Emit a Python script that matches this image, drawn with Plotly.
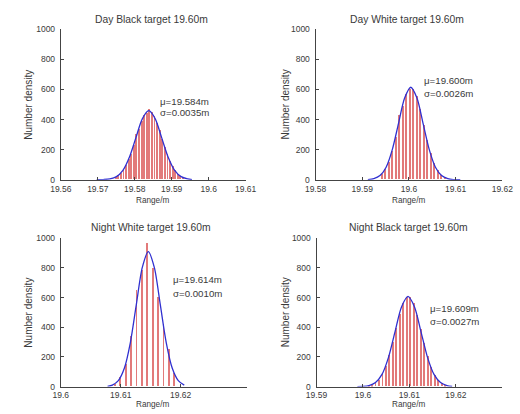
import plotly.graph_objects as go

# ---------------- data ----------------
titles = ["Day Black target 19.60m", "Day White target 19.60m",
          "Night White target 19.60m", "Night Black target 19.60m"]
mu_labels = ["\u03bc=19.584m", "\u03bc=19.600m", "\u03bc=19.614m", "\u03bc=19.609m"]
sigma_labels = ["\u03c3=0.0035m", "\u03c3=0.0026m", "\u03c3=0.0010m", "\u03c3=0.0027m"]

# histogram bin centres (start, step) and heights
p1_bin_start, p1_bin_step = 19.5748, 0.0007
p1_heights = [17, 28, 43, 66, 96, 134, 165, 231, 300, 335, 390, 428, 440, 470,
              447, 419, 377, 326, 271, 216, 165, 122, 86, 59, 38, 24, 15]
p2_bin_start, p2_bin_step = 19.5941, 0.00075
p2_heights = [36, 67, 118, 190, 282, 430, 488, 568, 600, 598, 555, 468, 364,
              262, 174, 106, 60, 31, 15]
p3_bin_start, p3_bin_step = 19.6090, 0.0009
p3_heights = [18, 65, 149, 340, 650, 783, 965, 800, 600, 417, 250, 90]
p4_bin_start, p4_bin_step = 19.6011, 0.00075
p4_heights = [5, 12, 24, 46, 82, 136, 208, 297, 395, 489, 563, 603, 602, 559,
              483, 388, 291, 203, 132, 79, 45, 23, 11]

# fitted curves
p1_curve_x = [19.5697, 19.5715, 19.5733, 19.57505, 19.5768, 19.57855, 19.5803,
              19.58205, 19.5838, 19.58555, 19.5873, 19.58905, 19.5908, 19.59255,
              19.5943, 19.5955]
p1_curve_y = [0, 1, 5, 20, 62, 149, 278, 405, 459, 405, 278, 149, 62, 20, 5, 1]
p2_curve_x = [19.5912, 19.59248, 19.5938, 19.59512, 19.59644, 19.59776, 19.59908,
              19.6004, 19.60172, 19.60304, 19.60436, 19.60568, 19.607, 19.60832,
              19.6095, 19.6110]
p2_curve_y = [1, 7, 27, 83, 200, 373, 543, 615, 543, 373, 200, 83, 27, 7, 1, 0]
p3_curve_x = [19.6078, 19.6086, 19.6096, 19.6106, 19.6116, 19.6126, 19.6136,
              19.6146, 19.6156, 19.6166, 19.6176, 19.6186, 19.6196, 19.6206]
p3_curve_y = [1, 10, 40, 123, 295, 552, 803, 910, 803, 552, 295, 123, 40, 10]
p4_curve_x = [19.5988, 19.6000, 19.6013, 19.6027, 19.6041, 19.6055, 19.6069,
              19.6083, 19.6097, 19.6111, 19.6125, 19.6139, 19.6153, 19.6167,
              19.6181, 19.6192]
p4_curve_y = [0, 1, 7, 27, 82, 197, 369, 537, 608, 537, 369, 197, 82, 27, 7, 1]

x_ranges = [[19.56, 19.61], [19.58, 19.62], [19.60, 19.631], [19.59, 19.63]]
x_ticks = [[19.56, 19.57, 19.58, 19.59, 19.60, 19.61],
           [19.58, 19.59, 19.60, 19.61, 19.62],
           [19.60, 19.61, 19.62],
           [19.59, 19.60, 19.61, 19.62]]
x_ticktext = [["19.56", "19.57", "19.58", "19.59", "19.6", "19.61"],
              ["19.58", "19.59", "19.6", "19.61", "19.62"],
              ["19.6", "19.61", "19.62"],
              ["19.59", "19.6", "19.61", "19.62"]]
y_ticks = [0, 200, 400, 600, 800, 1000]
x_title = "Range/m"
y_title = "Number density"

# ---------------- layout geometry (page pixels) ----------------
W, H = 520, 414
px_x = [(52, 245), (318, 513), (52, 246), (319, 513)]
px_y = [(179, 25), (179, 25), (391, 239), (391, 239)]  # (y of 0, y of 1000)
bar_w = [0.00024, 0.0002, 0.00015, 0.0002]
title_pos = [(147, 15), (414, 15), (146, 228), (415, 228)]
mu_pos = [(153, 99, 110), (429, 77, 91), (167, 281, 296), (435, 311, 324)]
ytitle_pos = [(18, 102), (287, 102), (18, 315), (287, 315)]
xtitle_pos = [(148, 200), (415, 200), (148, 409), (415, 409)]
xtick_standoff = [1, 1, 0, 0]


def fx(px):
    return px / W


def fy(py):
    return 1 - py / H


bins = [(p1_bin_start, p1_bin_step, p1_heights), (p2_bin_start, p2_bin_step, p2_heights),
        (p3_bin_start, p3_bin_step, p3_heights), (p4_bin_start, p4_bin_step, p4_heights)]
curves = [(p1_curve_x, p1_curve_y), (p2_curve_x, p2_curve_y),
          (p3_curve_x, p3_curve_y), (p4_curve_x, p4_curve_y)]

FONT = "Liberation Sans, Arial, sans-serif"
TXT = "#3a3a3a"
fig = go.Figure()
annotations = []
for i in range(4):
    sfx = "" if i == 0 else str(i + 1)
    start, step, hts = bins[i]
    centers = [round(start + k * step, 6) for k in range(len(hts))]
    fig.add_trace(go.Bar(x=centers, y=hts, width=bar_w[i],
                         marker=dict(color="#e27a7a", line=dict(width=0)),
                         xaxis="x" + sfx, yaxis="y" + sfx, showlegend=False))
    cx, cy = curves[i]
    fig.add_trace(go.Scatter(x=cx, y=cy, mode="lines",
                             line=dict(color="#3030d0", width=1.3, shape="spline", smoothing=0.8),
                             xaxis="x" + sfx, yaxis="y" + sfx, showlegend=False))
    x0, x1 = px_x[i]
    y0, y1 = px_y[i]
    fig.layout["xaxis" + sfx] = dict(
        domain=[fx(x0), fx(x1)], range=x_ranges[i], anchor="y" + sfx,
        tickvals=x_ticks[i], ticktext=x_ticktext[i], ticks="inside", ticklen=3,
        tickcolor="#444", showline=True, linecolor="#444", linewidth=1,
        ticklabelstandoff=xtick_standoff[i],
        showgrid=False, zeroline=False, tickfont=dict(size=8.5, color=TXT, family=FONT))
    fig.layout["yaxis" + sfx] = dict(
        domain=[fy(y0), fy(y1)], range=[0, 1000], anchor="x" + sfx,
        tickvals=y_ticks, ticks="inside", ticklen=3, tickcolor="#444",
        ticklabelstandoff=3,
        showline=True, linecolor="#444", linewidth=1, showgrid=False, zeroline=False,
        tickfont=dict(size=8.5, color=TXT, family=FONT))
    tx, ty = title_pos[i]
    annotations.append(dict(text=titles[i], x=fx(tx), y=fy(ty), xref="paper", yref="paper",
                            showarrow=False, xanchor="center", yanchor="middle",
                            font=dict(size=10.3, color=TXT, family=FONT)))
    mx, my1, my2 = mu_pos[i]
    annotations.append(dict(text=mu_labels[i], x=fx(mx), y=fy(my1), xref="paper", yref="paper",
                            showarrow=False, xanchor="left", yanchor="middle",
                            font=dict(size=9.7, color=TXT, family=FONT)))
    annotations.append(dict(text=sigma_labels[i], x=fx(mx), y=fy(my2), xref="paper", yref="paper",
                            showarrow=False, xanchor="left", yanchor="middle",
                            font=dict(size=9.7, color=TXT, family=FONT)))
    ax_, ay_ = ytitle_pos[i]
    annotations.append(dict(text=y_title, x=fx(ax_), y=fy(ay_), xref="paper", yref="paper",
                            showarrow=False, textangle=-90, xanchor="center", yanchor="middle",
                            font=dict(size=10, color=TXT, family=FONT)))
    bx, by = xtitle_pos[i]
    annotations.append(dict(text=x_title, x=fx(bx), y=fy(by), xref="paper", yref="paper",
                            showarrow=False, xanchor="center", yanchor="middle",
                            font=dict(size=8.2, color=TXT, family=FONT)))

fig.update_layout(width=W, height=H, margin=dict(l=0, r=0, t=0, b=0),
                  paper_bgcolor="white", plot_bgcolor="white", bargap=0,
                  annotations=annotations, font=dict(family=FONT))
fig.write_html("out.html", config={"displayModeBar": False},
               post_script="document.body.style.margin='0';document.body.style.padding='0';")
